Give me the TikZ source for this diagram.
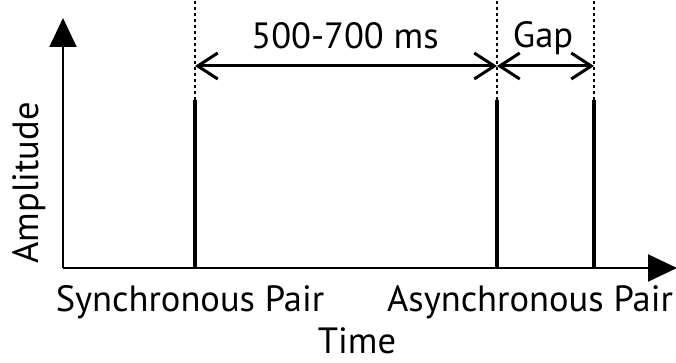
\documentclass[tikz,border=0pt]{standalone}
\usepackage{fontspec}
\setmainfont{PT Sans}
\usetikzlibrary{arrows.meta}
\begin{document}
\begin{tikzpicture}[x=1pt,y=-1pt,
  axis/.style={line width=2pt,-{Triangle[length=29pt,width=27pt]}},
  pulse/.style={line width=3.5pt},
  guide/.style={line width=1.2pt,dash pattern=on 3pt off 3pt},
  span/.style={line width=3pt,{Straight Barb[length=20pt,width=26pt,line width=3pt]}-{Straight Barb[length=20pt,width=26pt,line width=3pt]}},
  lbl/.style={font=\fontsize{36.5}{38}\selectfont, inner sep=0pt, anchor=base}]
\useasboundingbox (0,0) rectangle (676,363);
\coordinate (O) at (63,268);
\coordinate (Ytop) at (63,18);
\coordinate (Xend) at (677,268);
\draw[axis] (O) -- (Ytop);
\draw[axis] (O) -- (Xend);
% pulses
\foreach \n/\x in {a/195,b/497,c/594}{
  \coordinate (\n0) at (\x,268);
  \coordinate (\n1) at (\x,100);
  \coordinate (\n2) at (\x,0);
  \draw[pulse] (\n0) -- (\n1);
  \draw[guide] (\n1) -- (\n2);
  \coordinate (\n m) at (\x,66);
}
\draw[span] (am) -- (bm);
\draw[span] (bm) -- (cm);
\node[lbl] (t1) at (345,49) {500-700 ms};
\node[lbl] (t2) at (543,48) {Gap};
\node[lbl] (s) at (190,311) {Synchronous Pair};
\node[lbl] (as) at (530,311) {Asynchronous Pair};
\node[lbl] (tm) at (357,353) {Time};
\node[lbl,rotate=90] (am) at (38,183) {Amplitude};
\end{tikzpicture}
\end{document}
